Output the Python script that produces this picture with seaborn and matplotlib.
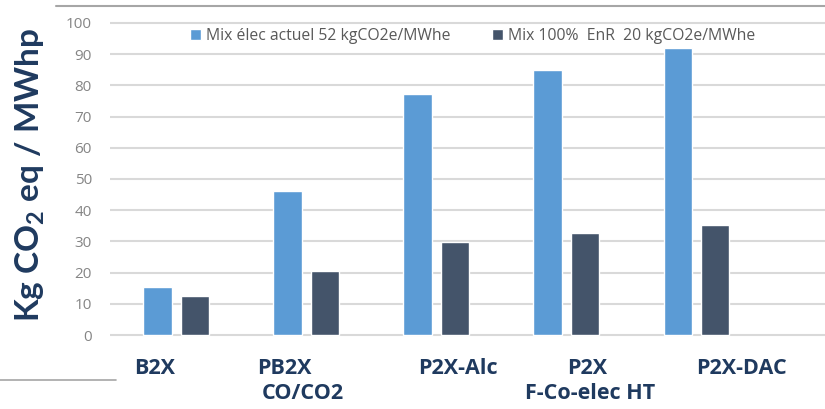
import matplotlib
matplotlib.use("Agg")
import matplotlib.pyplot as plt
from matplotlib.lines import Line2D
import seaborn as sns
import pandas as pd

# Emission factors per pathway (kg CO2 eq / MWhp)
categories = ["B2X", "PB2X CO/CO2", "P2X-Alc", "P2X F-Co-elec HT", "P2X-DAC"]
mix_actuel = [15.5, 46.2, 77.1, 85.0, 92.1]
mix_enr = [12.4, 20.5, 29.7, 32.8, 35.4]
series_names = ["Mix élec actuel 52 kgCO2e/MWhe", "Mix 100%  EnR  20 kgCO2e/MWhe"]
yticks = list(range(0, 101, 10))

# Category captions, one list of lines per group with a horizontal shift
caption_lines = [
    [("B2X", -0.165)],
    [("PB2X", -0.165), ("CO/CO2", -0.03)],
    [("P2X-Alc", 0.165)],
    [("P2X", 0.158), ("F-Co-elec HT", 0.185)],
    [("P2X-DAC", 0.346)],
]

df = pd.DataFrame({
    "cat": categories * 2,
    "val": mix_actuel + mix_enr,
    "serie": [series_names[0]] * 5 + [series_names[1]] * 5,
})

sns.set_theme(style="white")
plt.rcParams["font.family"] = ["Open Sans", "DejaVu Sans"]
plt.rcParams["mathtext.fontset"] = "custom"
plt.rcParams["mathtext.rm"] = "Lato:bold"
plt.rcParams["mathtext.bf"] = "Lato:bold"

navy = "#1F3A5F"
light = "#5B9BD5"
dark = "#44546A"

fig = plt.figure(figsize=(8.25, 4.09), dpi=100)
ax = fig.add_axes([0.1333, 0.177, 0.8667, 0.7707])

sns.barplot(data=df, x="cat", y="val", hue="serie", order=categories,
            hue_order=series_names, palette=[light, dark], width=0.57,
            gap=0.23, saturation=1, ax=ax, legend=True)

ax.set_xlim(-0.51, 4.99)
ax.set_ylim(-0.5, 100.5)
ax.set_yticks(yticks)
ax.set_axisbelow(True)
ax.yaxis.grid(True, color="#D9D9D9", linewidth=1.5)
ax.xaxis.grid(False)
for s in ax.spines.values():
    s.set_visible(False)
ax.tick_params(axis="y", length=0, pad=13, labelsize=11, labelcolor="#858585")
ax.set_xticks(range(len(categories)))
ax.set_xticklabels([])
ax.tick_params(axis="x", length=0)
ax.set_xlabel("")
ax.set_ylabel("")

# Captions below each group
for i, lines in enumerate(caption_lines):
    for k, (txt, dx) in enumerate(lines):
        ax.text(i + dx, -10.6 - 8.2 * k, txt, ha="center", va="center",
                fontsize=15.5, fontweight="bold", color=navy, clip_on=False)

# Legend across the top
leg = ax.legend(loc="center", bbox_to_anchor=(0.507, 0.955), ncol=2,
                frameon=False, fontsize=11.3, handlelength=0.7, handleheight=0.7,
                handletextpad=0.35, columnspacing=2.6, borderaxespad=0)
for t in leg.get_texts():
    t.set_color("#595959")

# Vertical axis title
fig.text(0.037, 0.572, r"Kg CO$_{\mathbf{2}}$ eq / MWhp", rotation=90,
         ha="center", va="center", fontsize=24, fontweight="bold",
         family="Lato", color=navy)

# Frame lines
fig.add_artist(Line2D([56 / 825, 1.0], [1 - 6 / 409, 1 - 6 / 409],
                      color="#A6A6A6", linewidth=1.5))
fig.add_artist(Line2D([0.0, 116 / 825], [1 - 380 / 409, 1 - 380 / 409],
                      color="#A6A6A6", linewidth=1.2))

fig.savefig("out.png", dpi=100)
